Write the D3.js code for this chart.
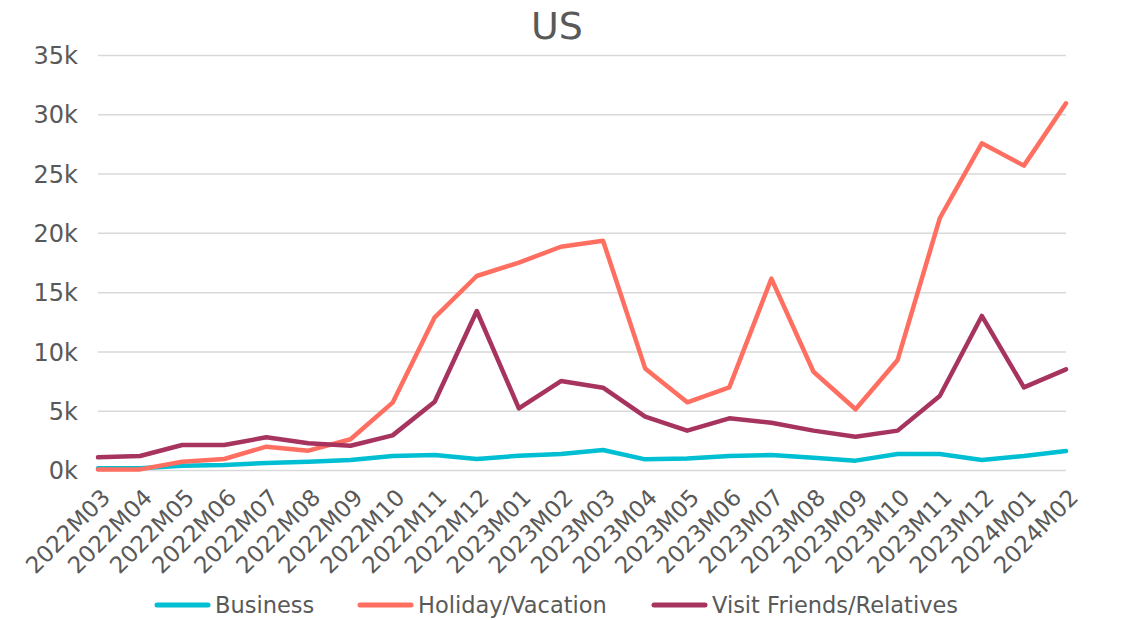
<!DOCTYPE html>
<html><head><meta charset="utf-8">
<script src="https://cdn.jsdelivr.net/npm/d3@7"></script>
<style>body{margin:0;background:#fff}svg{display:block}text{font-family:"DejaVu Sans",sans-serif;fill:#595959}</style>
</head><body><svg id="c" width="1140" height="620"></svg>
<script>
const months = ["2022M03","2022M04","2022M05","2022M06","2022M07","2022M08","2022M09","2022M10","2022M11","2022M12","2023M01","2023M02","2023M03","2023M04","2023M05","2023M06","2023M07","2023M08","2023M09","2023M10","2023M11","2023M12","2024M01","2024M02"];
const business = [150,150,350,420,600,700,840,1180,1260,930,1200,1350,1690,900,980,1180,1260,1040,790,1350,1350,840,1180,1600];
const holiday = [50,50,700,930,1970,1630,2590,5680,12880,16360,17490,18830,19340,8570,5710,6970,16140,8290,5120,9280,21230,27550,25670,30930];
const visit = [1070,1180,2110,2110,2760,2250,2050,2920,5760,13410,5200,7500,6940,4500,3320,4360,3990,3320,2810,3320,6240,12990,6970,8490];
const yTicks = [0,5000,10000,15000,20000,25000,30000,35000];
const seriesNames = ["Business","Holiday/Vacation","Visit Friends/Relatives"];
const colors = ["#00BFD3","#FF6F61","#A6345F"];

const svg = d3.select("#c");
const x = d3.scalePoint().domain(months).range([98,1066]);
const y = d3.scaleLinear().domain([0,35000]).range([470,55]);

const yAxis = svg.append("g").attr("transform","translate(98,0)")
  .call(d3.axisLeft(y).tickValues(yTicks).tickSize(-968).tickFormat(d=>(d/1000)+"k").tickPadding(20));
yAxis.select(".domain").remove();
yAxis.selectAll("line").attr("stroke","#d9d9d9").attr("stroke-width",1.5);
yAxis.selectAll("text").attr("font-size",24).attr("fill","#595959").attr("dy","0.36em").style("font-family","DejaVu Sans");

const xAxis = svg.append("g").attr("transform","translate(0,470)")
  .call(d3.axisBottom(x).tickSize(0).tickPadding(0));
xAxis.select(".domain").remove();
xAxis.selectAll("text").attr("font-size",23).attr("fill","#595959").style("font-family","DejaVu Sans")
  .attr("text-anchor","end").attr("dy",null).attr("y",null)
  .attr("transform","translate(13,29) rotate(-45)");

const data = [business, holiday, visit];
const line = d3.line().x((d,i)=>x(months[i])).y(d=>y(d));
data.forEach((s,k)=>{
  svg.append("path").datum(s).attr("d",line).attr("fill","none")
    .attr("stroke",colors[k]).attr("stroke-width",4.5).attr("stroke-linejoin","round").attr("stroke-linecap","round");
});

svg.append("text").attr("x",557).attr("y",39).attr("text-anchor","middle").attr("font-size",38).text("US");

const legX = [155,358,652];
seriesNames.forEach((n,k)=>{
  svg.append("line").attr("x1",legX[k]+2).attr("x2",legX[k]+53).attr("y1",605).attr("y2",605)
    .attr("stroke",colors[k]).attr("stroke-width",5).attr("stroke-linecap","round");
  svg.append("text").attr("x",legX[k]+60).attr("y",613).attr("font-size",22.5).text(n);
});
</script></body></html>
